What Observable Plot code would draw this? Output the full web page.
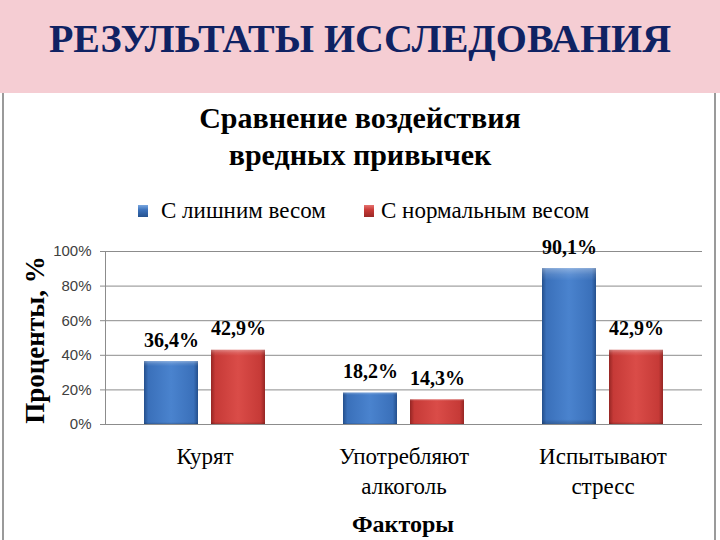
<!DOCTYPE html>
<html><head><meta charset="utf-8">
<script src="https://cdn.jsdelivr.net/npm/d3@7"></script>
<script src="https://cdn.jsdelivr.net/npm/@observablehq/plot@0.6"></script>
<style>
html,body{margin:0;padding:0;background:#fff;}
body{width:720px;height:540px;position:relative;overflow:hidden;}
.abs{position:absolute;font-family:'Liberation Serif','Times New Roman',serif;}
#header{left:0;top:0;width:720px;height:93px;background:#F5CDD3;}
#htitle{left:0;width:720px;top:15px;text-align:center;font-size:40px;line-height:1.2;font-weight:bold;color:#0F2263;white-space:nowrap;}
#frame{left:2px;top:93px;width:710px;height:460px;border-left:2px solid #9a9a9a;border-right:2px solid #9a9a9a;}
#ctitle{left:0;width:720px;top:99px;text-align:center;font-size:30px;line-height:37px;font-weight:bold;color:#000;}
#legend{left:0;top:197px;width:720px;height:30px;font-size:23px;line-height:1.2;color:#000;white-space:nowrap;}
.sw{position:absolute;width:10px;height:12px;top:8px;}
.lt{position:absolute;top:0;font-family:'Liberation Serif','Times New Roman',serif;}
#chart{left:0;top:230px;}
#ylab{left:35px;top:340px;font-size:27px;line-height:1;font-weight:bold;white-space:nowrap;transform:translate(-50%,-50%) rotate(-90deg);}
#xlab{left:0;width:806px;top:510px;text-align:center;font-size:24px;line-height:1.2;font-weight:bold;}
</style></head>
<body>
<div id="header" class="abs"></div>
<div id="htitle" class="abs">РЕЗУЛЬТАТЫ ИССЛЕДОВАНИЯ</div>
<div id="frame" class="abs"></div>
<div id="ctitle" class="abs">Сравнение воздействия<br>вредных привычек</div>
<div id="legend" class="abs"></div>
<div id="chart" class="abs"></div>
<div id="ylab" class="abs">Проценты, %</div>
<div id="xlab" class="abs">Факторы</div>
<script>
const categories = ["Курят", "Употребляют\nалкоголь", "Испытывают\nстресс"];
const seriesNames = ["С лишним весом", "С нормальным весом"];
const overweight = [36.4, 18.2, 90.1];
const normalWeight = [42.9, 14.3, 42.9];
const yTicks = [0, 20, 40, 60, 80, 100];
const yTickLabels = ["0%", "20%", "40%", "60%", "80%", "100%"];
const seriesFill = ["url(#gBlue)", "url(#gRed)"];
const swatchColors = ["#3C72BC", "#C93A37"];

const data = [];
categories.forEach((c, i) => {
  data.push({cat: c, series: seriesNames[0], value: overweight[i]});
  data.push({cat: c, series: seriesNames[1], value: normalWeight[i]});
});
const fmt = v => v.toFixed(1).replace(".", ",") + "%";

// legend
const legend = document.getElementById("legend");
const legendX = [[138, 161], [364, 381]];
seriesNames.forEach((s, i) => {
  const sw = document.createElement("div");
  sw.className = "sw";
  sw.style.left = legendX[i][0] + "px";
  sw.style.background = `linear-gradient(to bottom, ${i ? "#E57370" : "#7AA7E0"}, ${swatchColors[i]} 40%, ${i ? "#9A2826" : "#25528F"})`;
  legend.appendChild(sw);
  const t = document.createElement("span");
  t.className = "lt";
  t.style.left = legendX[i][1] + "px";
  t.textContent = s;
  legend.appendChild(t);
});

const chart = Plot.plot({
  width: 720,
  height: 310,
  marginTop: 21,
  marginBottom: 116,
  marginLeft: 105,
  marginRight: 18,
  style: {fontFamily: "Liberation Serif", background: "transparent", overflow: "visible"},
  fx: {domain: categories, padding: 0, label: null},
  x: {domain: seriesNames, paddingInner: 0.195, paddingOuter: 0.58, axis: null},
  y: {domain: [0, 100], label: null},
  marks: [
    Plot.gridY(yTicks, {stroke: "#8c8c8c", strokeOpacity: 1}),
    Plot.frame({anchor: "left", stroke: "#8c8c8c", facet: "super"}),
    Plot.axisY(yTicks, {tickSize: 5, tickPadding: 9, stroke: "#8c8c8c", tickFormat: d => yTickLabels[yTicks.indexOf(d)], fontSize: 15, fontFamily: "Liberation Sans", fill: "#404040", label: null}),
    Plot.barY(data.filter(d => d.series === seriesNames[0]), {fx: "cat", x: "series", y: "value", fill: seriesFill[0]}),
    Plot.barY(data.filter(d => d.series === seriesNames[1]), {fx: "cat", x: "series", y: "value", fill: seriesFill[1]}),
    Plot.barY(data, {fx: "cat", x: "series", y: "value", fill: "url(#gTop)"}),
    Plot.text(data, {fx: "cat", x: "series", y: "value", text: d => fmt(d.value), lineAnchor: "bottom", dy: -15, fontSize: 20, fontWeight: "bold", fill: "#000"}),
    Plot.axisFx({anchor: "bottom", tickSize: 0, tickPadding: 18, fontSize: 23, lineHeight: 1.3, label: null, fill: "#000"})
  ]
});

// gradients for bevelled bars
const ns = "http://www.w3.org/2000/svg";
const defs = document.createElementNS(ns, "defs");
function grad(id, stops, vertical) {
  const g = document.createElementNS(ns, "linearGradient");
  g.setAttribute("id", id);
  g.setAttribute("x1", "0"); g.setAttribute("y1", "0");
  g.setAttribute("x2", vertical ? "0" : "1"); g.setAttribute("y2", vertical ? "1" : "0");
  stops.forEach(([o, c, op]) => {
    const s = document.createElementNS(ns, "stop");
    s.setAttribute("offset", o); s.setAttribute("stop-color", c);
    if (op != null) s.setAttribute("stop-opacity", op);
    g.appendChild(s);
  });
  defs.appendChild(g);
}
grad("gBlue", [[0, "#244F8C"], [0.08, "#3A70BA"], [0.5, "#4A83CE"], [0.92, "#3A70BA"], [1, "#244F8C"]]);
grad("gRed", [[0, "#952624"], [0.08, "#C63A37"], [0.5, "#DA4C48"], [0.92, "#C63A37"], [1, "#952624"]]);
grad("gTop", [[0, "#ffffff", 0.35], [0.04, "#ffffff", 0.12], [0.08, "#ffffff", 0], [0.97, "#000000", 0], [1, "#000000", 0.2]], true);
chart.insertBefore(defs, chart.firstChild);

document.getElementById("chart").appendChild(chart);
</script>
</body></html>
